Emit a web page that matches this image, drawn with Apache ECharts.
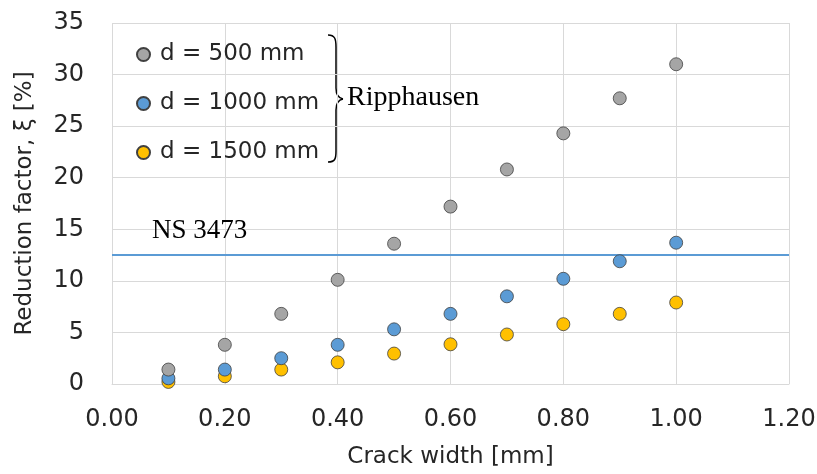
<!DOCTYPE html>
<html>
<head>
<meta charset="utf-8">
<script src="https://cdn.jsdelivr.net/npm/echarts@6/dist/echarts.min.js"></script>
<style>
  html, body { margin: 0; padding: 0; background: #fff; }
  #chart { width: 817px; height: 474px; }
</style>
</head>
<body>
<div id="chart"></div>
<script>
// crack widths [mm]
const crackWidth = [0.1, 0.2, 0.3, 0.4, 0.5, 0.6, 0.7, 0.8, 0.9, 1.0];
// reduction factor [%], Ripphausen
const d500 = [1.4, 3.8, 6.8, 10.1, 13.6, 17.2, 20.8, 24.3, 27.7, 31.0];
const d1000 = [0.55, 1.4, 2.5, 3.8, 5.3, 6.8, 8.5, 10.2, 11.9, 13.7];
const d1500 = [0.2, 0.75, 1.4, 2.1, 2.95, 3.85, 4.8, 5.8, 6.8, 7.9];
// NS 3473 limit
const nsX = [0, 1.2];
const nsY = [12.5, 12.5];

const seriesNames = ['d = 500 mm', 'd = 1000 mm', 'd = 1500 mm'];
const seriesColors = ['#A5A5A5', '#5B9BD5', '#FFC000'];

const sansFont = 'DejaVu Sans';
const serifFont = 'Liberation Serif';

function pairs(xs, ys) {
  return xs.map((x, i) => [x, ys[i]]);
}

const chart = echarts.init(document.getElementById('chart'));

const scatter = [d500, d1000, d1500].map((vals, i) => ({
  name: seriesNames[i],
  type: 'scatter',
  symbol: 'circle',
  symbolSize: 13,
  z: 5 - i,
  itemStyle: {
    color: seriesColors[i],
    borderColor: '#404040',
    borderWidth: 0.8,
    opacity: 1
  },
  data: pairs(crackWidth, vals)
}));

// curly brace next to the legend
const braceStyle = { stroke: '#000', lineWidth: 1.5, fill: 'none' };
function curve(x1, y1, cx1, cy1, cx2, cy2, x2, y2) {
  return {
    type: 'bezierCurve',
    shape: { x1: x1, y1: y1, cpx1: cx1, cpy1: cy1, cpx2: cx2, cpy2: cy2, x2: x2, y2: y2 },
    style: braceStyle
  };
}
function seg(x1, y1, x2, y2) {
  return { type: 'line', shape: { x1: x1, y1: y1, x2: x2, y2: y2 }, style: braceStyle };
}
const brace = {
  type: 'group',
  z: 10,
  children: [
    curve(328, 35, 335, 35, 336, 39, 336, 47),
    seg(336, 47, 336, 88),
    curve(336, 88, 336, 95, 338, 98, 343, 99),
    curve(343, 99, 338, 100, 336, 103, 336, 110),
    seg(336, 110, 336, 151),
    curve(336, 151, 336, 159, 335, 162, 328, 162)
  ]
};

const option = {
  animation: false,
  backgroundColor: '#fff',
  grid: { left: 112, right: 28, top: 23, bottom: 90, outerBoundsMode: 'none' },
  legend: {
    orient: 'vertical',
    left: 131,
    top: 38,
    itemGap: 26,
    itemWidth: 13,
    itemHeight: 13,
    icon: 'circle',
    data: seriesNames,
    textStyle: { fontFamily: sansFont, fontSize: 23, color: '#262626', padding: [0, 0, 0, 5] }
  },
  xAxis: {
    type: 'value',
    min: 0,
    max: 1.2,
    interval: 0.2,
    name: 'Crack width [mm]',
    nameLocation: 'middle',
    nameGap: 62,
    nameTextStyle: { fontFamily: sansFont, fontSize: 23, color: '#262626' },
    axisLine: { show: true, lineStyle: { color: '#D9D9D9', width: 1 } },
    axisTick: { show: false },
    axisLabel: {
      margin: 24,
      fontFamily: sansFont,
      fontSize: 24,
      color: '#262626',
      formatter: v => v.toFixed(2)
    },
    splitLine: { show: true, lineStyle: { color: '#D9D9D9', width: 1 } }
  },
  yAxis: {
    type: 'value',
    min: 0,
    max: 35,
    interval: 5,
    name: 'Reduction factor, ξ [%]',
    nameLocation: 'middle',
    nameGap: 75,
    nameTextStyle: { fontFamily: sansFont, fontSize: 23, color: '#262626' },
    axisLine: { show: false },
    axisTick: { show: false },
    axisLabel: { margin: 28, fontFamily: sansFont, fontSize: 24, color: '#262626' },
    splitLine: { show: true, lineStyle: { color: '#D9D9D9', width: 1 } }
  },
  graphic: [
    brace,
    {
      type: 'text',
      z: 10,
      left: 347,
      top: 84,
      style: { text: 'Ripphausen', font: '28px "' + serifFont + '"', fill: '#000' }
    },
    {
      type: 'text',
      z: 10,
      left: 152,
      top: 217,
      style: { text: 'NS 3473', font: '27px "' + serifFont + '"', fill: '#000' }
    }
  ],
  series: [
    {
      name: 'NS 3473',
      type: 'line',
      symbol: 'none',
      z: 1,
      lineStyle: { color: '#5B9BD5', width: 2 },
      data: pairs(nsX, nsY)
    }
  ].concat(scatter)
};

chart.setOption(option);
</script>
</body>
</html>
